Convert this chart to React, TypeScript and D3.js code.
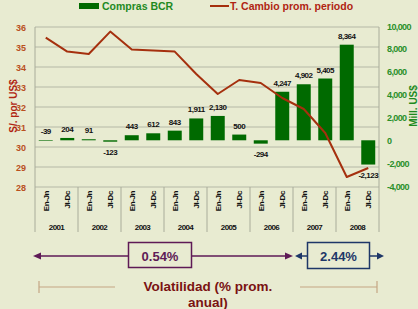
import React from "react";
import * as d3 from "d3";

const years = ["2001", "2002", "2003", "2004", "2005", "2006", "2007", "2008"];
const halves = ["En-Jn", "Jl-Dc"];
const categories = years.flatMap((y) => halves.map((h) => `${y} ${h}`));
const compras = [-39, 204, 91, -123, 443, 612, 843, 1911, 2130, 500, -294, 4247, 4902, 5405, 8364, -2123];
const tipoCambio = [35.47, 34.77, 34.65, 35.77, 34.88, 34.83, 34.77, 33.65, 32.65, 33.35, 33.2, 32.45, 31.9, 30.7, 28.5, 28.95];
const leftTicks = [28, 29, 30, 31, 32, 33, 34, 35, 36];
const rightTicks = [-4000, -2000, 0, 2000, 4000, 6000, 8000, 10000];
const volLeft = "0.54%";
const volRight = "2.44%";

const W = 418;
const H = 309;
const BG = "#e8ebd1";
const FONT = "'Liberation Sans', Arial, sans-serif";

const loc = d3.formatLocale({ decimal: ".", thousands: ",", grouping: [3], currency: ["$", ""], minus: "-" });
const fmt = loc.format(",");

export default function App() {
  const x0 = 35, x1 = 379, yTop = 27, yBot = 187;
  const x = d3.scaleBand<string>().domain(categories).range([x0, x1]).paddingInner(0.35).paddingOuter(0.175);
  const yearX = d3.scaleBand<string>().domain(years).range([x0, x1]);
  const yL = d3.scaleLinear().domain([28, 36]).range([yBot, yTop]);
  const yR = d3.scaleLinear().domain([-4000, 10000]).range([186, 26]);
  const cx = (c: string) => (x(c) as number) + x.bandwidth() / 2;

  const line = d3
    .line<number>()
    .x((_, i) => cx(categories[i]))
    .y((d) => yL(d));

  const green = "#006a00";
  const lineColor = "#a5300e";
  const purple = "#5e1a56";
  const blue = "#1e3768";
  const tan = "#c4a684";

  return (
    <svg width={W} height={H} style={{ position: "absolute", left: 0, top: 0 }} fontFamily={FONT}>
      <rect x={0} y={0} width={W} height={H} fill={BG} />

      {/* gridlines */}
      {leftTicks.map((t) => (
        <line key={t} x1={x0} x2={x1} y1={yL(t)} y2={yL(t)} stroke="#b5b8a6" strokeWidth={1} />
      ))}
      <line x1={x0} x2={x0} y1={yTop} y2={yBot} stroke="#a9ac9a" />
      <line x1={x1} x2={x1} y1={yTop} y2={yBot} stroke="#a9ac9a" />

      {/* year separators */}
      {years.map((yr) => (
        <line key={yr} x1={yearX(yr) as number} x2={yearX(yr) as number} y1={yBot} y2={232} stroke="#a9ac9a" />
      ))}
      <line x1={x1} x2={x1} y1={yBot} y2={232} stroke="#a9ac9a" />

      {/* left ticks */}
      {leftTicks.map((t) => (
        <text key={t} x={26} y={yL(t) + 3.5} textAnchor="end" fontSize={9} fontWeight="bold" fill="#b9501e">
          {t}
        </text>
      ))}
      {/* right ticks */}
      {rightTicks.map((t) => (
        <text key={t} x={387} y={yR(t) + 3.5} fontSize={9} fontWeight="bold" letterSpacing={-0.6} fill="#2a8f2a">
          {fmt(t)}
        </text>
      ))}

      {/* axis titles */}
      <text transform="translate(17,106) rotate(-90)" textAnchor="middle" fontSize={10} fontWeight="bold" fill="#b02412">
        S/. por US$
      </text>
      <text transform="translate(417,106) rotate(-90)" textAnchor="middle" fontSize={10} fontWeight="bold" fill="#1f8a1f">
        Mill. US$
      </text>

      {/* bars */}
      {compras.map((v, i) => {
        const c = categories[i];
        const top = yR(Math.max(0, v));
        const bot = yR(Math.min(0, v));
        return (
          <rect key={c} x={x(c)} y={top} width={x.bandwidth()} height={Math.max(0.6, bot - top)} fill={green} />
        );
      })}
      {compras.map((v, i) => {
        const c = categories[i];
        const above = v > -100;
        const yy = above ? yR(Math.max(0, v)) - 6 : yR(v) + 13;
        return (
          <text key={c} x={cx(c)} y={yy} textAnchor="middle" fontSize={8} fontWeight="bold" letterSpacing={-0.5} fill="#111">
            {fmt(v)}
          </text>
        );
      })}

      {/* exchange rate line */}
      <path d={line(tipoCambio) as string} fill="none" stroke={lineColor} strokeWidth={2} strokeLinejoin="round" />

      {/* category labels */}
      {categories.map((c, i) => (
        <text
          key={c}
          transform={`translate(${cx(c) + 3},191) rotate(-90)`}
          textAnchor="end"
          fontSize={8}
          fontWeight="bold"
          letterSpacing={-0.4}
          fill="#111"
        >
          {halves[i % 2]}
        </text>
      ))}
      {years.map((yr) => (
        <text
          key={yr}
          x={(yearX(yr) as number) + yearX.bandwidth() / 2}
          y={230}
          textAnchor="middle"
          fontSize={8}
          fontWeight="bold"
          letterSpacing={-0.6}
          fill="#111"
        >
          {yr}
        </text>
      ))}

      {/* legend */}
      <rect x={79} y={3} width={20} height={6} fill={green} />
      <text x={102} y={10} fontSize={10.5} fontWeight="bold" fill="#1f8a1f">
        Compras BCR
      </text>
      <line x1={210} x2={229} y1={6} y2={6} stroke={lineColor} strokeWidth={2} />
      <text x={230} y={10} fontSize={10.5} fontWeight="bold" fill="#b02412">
        T. Cambio prom. periodo
      </text>

      {/* volatility arrows */}
      <line x1={36} x2={289} y1={256} y2={256} stroke={purple} strokeWidth={1.5} />
      <path d="M33,256 L41,252.5 L41,259.5 Z" fill={purple} />
      <path d="M293,256 L285,252.5 L285,259.5 Z" fill={purple} />
      <rect x={128.5} y={242.5} width={63} height={25} fill={BG} stroke={purple} strokeWidth={1.5} />
      <text x={160} y={261} textAnchor="middle" fontSize={13} fontWeight="bold" fill={purple}>
        {volLeft}
      </text>

      <line x1={298} x2={307} y1={256} y2={256} stroke={blue} strokeWidth={1.5} />
      <path d="M295,256 L302,252.5 L302,259.5 Z" fill={blue} />
      <line x1={370} x2={380} y1={256} y2={256} stroke={blue} strokeWidth={1.5} />
      <path d="M384,256 L377,252.5 L377,259.5 Z" fill={blue} />
      <rect x={307.5} y={242.5} width={62} height={26} fill={BG} stroke={blue} strokeWidth={1.5} />
      <text x={338.5} y={261} textAnchor="middle" fontSize={13} fontWeight="bold" fill={blue}>
        {volRight}
      </text>

      {/* bottom bracket */}
      <line x1={39} x2={115} y1={287} y2={287} stroke={tan} strokeWidth={1.2} />
      <line x1={39} x2={39} y1={281} y2={293} stroke={tan} strokeWidth={1.2} />
      <line x1={300} x2={377} y1={287} y2={287} stroke={tan} strokeWidth={1.2} />
      <line x1={377} x2={377} y1={281} y2={293} stroke={tan} strokeWidth={1.2} />
      <text x={208} y={291} textAnchor="middle" fontSize={13.5} fontWeight="bold" fill="#7a1212">
        Volatilidad (% prom.
      </text>
      <text x={208} y={306.5} textAnchor="middle" fontSize={13.5} fontWeight="bold" fill="#7a1212">
        anual)
      </text>
    </svg>
  );
}
